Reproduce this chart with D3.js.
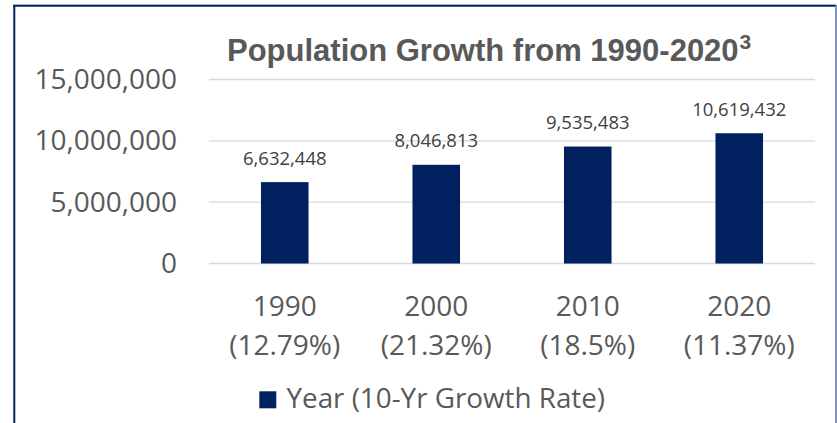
<!DOCTYPE html>
<html>
<head>
<meta charset="utf-8">
<script src="https://cdn.jsdelivr.net/npm/d3@7"></script>
<style>
  body { margin: 0; background: #fff; }
  svg { display: block; }
</style>
</head>
<body>
<script>
// chart data
const years = ['1990', '2000', '2010', '2020'];
const growthRates = ['12.79%', '21.32%', '18.5%', '11.37%'];
const population = [6632448, 8046813, 9535483, 10619432];
const yTicks = [0, 5000000, 10000000, 15000000];
const seriesName = 'Year (10-Yr Growth Rate)';

const W = 837, H = 423;
const navy = '#002060';
const textGrey = '#595959';
const font = '"Open Sans", "Noto Sans", sans-serif';

const svg = d3.select('body').append('svg')
    .attr('width', W)
    .attr('height', H)
    .attr('viewBox', `0 0 ${W} ${H}`);

svg.append('rect').attr('width', W).attr('height', H).attr('fill', '#fff');

// frame
svg.append('line').attr('x1', 13).attr('x2', 836).attr('y1', 4.5).attr('y2', 4.5)
    .attr('stroke', '#e3e3e3').attr('stroke-width', 1);
svg.append('line').attr('x1', 13.3).attr('x2', 836).attr('y1', 5.8).attr('y2', 5.8)
    .attr('stroke', navy).attr('stroke-width', 2);
svg.append('line').attr('x1', 14.3).attr('x2', 14.3).attr('y1', 5).attr('y2', H)
    .attr('stroke', navy).attr('stroke-width', 2);
svg.append('line').attr('x1', 836).attr('x2', 836).attr('y1', 5).attr('y2', H)
    .attr('stroke', '#5b7bb0').attr('stroke-width', 1.6);

const x = d3.scaleBand()
    .domain(years)
    .range([209, 815])
    .paddingInner(0.686)
    .paddingOuter(0.343);

const y = d3.scaleLinear()
    .domain([0, 15000000])
    .range([263.5, 79.5]);

// gridlines
svg.append('g').selectAll('line')
    .data(yTicks)
    .enter()
    .append('line')
    .attr('x1', 209)
    .attr('x2', 815)
    .attr('y1', d => y(d))
    .attr('y2', d => y(d))
    .attr('stroke', '#d9d9d9')
    .attr('stroke-width', 1.3);

// y axis labels
const yAxis = svg.append('g')
    .attr('transform', 'translate(209,0)')
    .call(d3.axisLeft(y).tickValues(yTicks).tickSize(0).tickPadding(32).tickFormat(d3.format(',')));
yAxis.select('.domain').remove();
yAxis.selectAll('text')
    .attr('fill', textGrey)
    .style('font-family', font)
    .style('font-size', '28px');

// bars
svg.append('g').selectAll('rect')
    .data(population)
    .enter()
    .append('rect')
    .attr('x', (d, i) => x(years[i]))
    .attr('y', d => y(d))
    .attr('width', x.bandwidth())
    .attr('height', d => y(0) - y(d))
    .attr('fill', navy);

// value labels
svg.append('g').selectAll('text')
    .data(population)
    .enter()
    .append('text')
    .attr('x', (d, i) => x(years[i]) + x.bandwidth() / 2)
    .attr('y', d => y(d) - 17.5)
    .attr('text-anchor', 'middle')
    .attr('fill', '#404040')
    .style('font-family', font)
    .style('font-size', '18.5px')
    .text(d => d3.format(',')(d));

// category labels
const cats = svg.append('g').selectAll('text')
    .data(years)
    .enter()
    .append('text')
    .attr('text-anchor', 'middle')
    .attr('fill', textGrey)
    .style('font-family', font)
    .style('font-size', '28px');
cats.append('tspan')
    .attr('x', d => x(d) + x.bandwidth() / 2)
    .attr('y', 316)
    .text(d => d);
cats.append('tspan')
    .attr('x', d => x(d) + x.bandwidth() / 2)
    .attr('y', 355)
    .text((d, i) => `(${growthRates[i]})`);

// title
const title = svg.append('text')
    .attr('x', 227)
    .attr('y', 61)
    .attr('fill', textGrey)
    .style('font-family', '"Liberation Sans", Arial, sans-serif')
    .style('font-weight', 'bold')
    .style('font-size', '31px')
    .text('Population Growth from 1990-2020');
title.append('tspan')
    .attr('dx', 1)
    .attr('dy', -12)
    .style('font-size', '21px')
    .text('3');

// legend
svg.append('rect')
    .attr('x', 259.3)
    .attr('y', 391.3)
    .attr('width', 17)
    .attr('height', 17)
    .attr('fill', navy);
svg.append('text')
    .attr('x', 286.5)
    .attr('y', 408.3)
    .attr('fill', textGrey)
    .style('font-family', font)
    .style('font-size', '27.8px')
    .text(seriesName);
</script>
</body>
</html>
